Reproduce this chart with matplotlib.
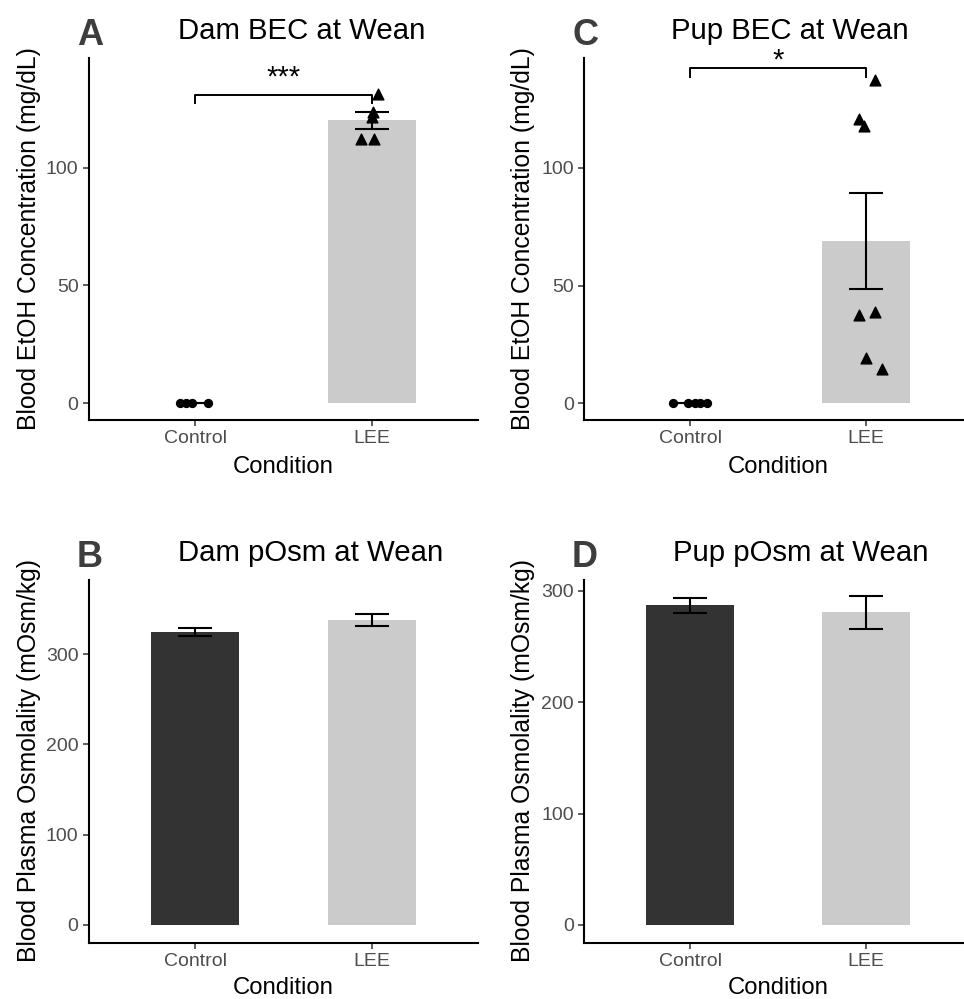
import matplotlib
matplotlib.use("Agg")
import matplotlib.pyplot as plt

plt.rcParams['font.family'] = ['Liberation Sans', 'DejaVu Sans']

W, H = 964, 999

conditions = ["Control", "LEE"]
bar_colors = ["#333333", "#cbcbcb"]

# panel A - dam BEC
damBEC_mean = [0.0, 120.0]
damBEC_se = [0.0, 3.6]
damBEC_ctrl = [0, 0, 0, 0]
damBEC_ctrl_x = [0.915, 0.949, 0.981, 1.075]
damBEC_lee = [131.2, 123.4, 121.3, 112.1, 112.1]
damBEC_lee_x = [2.035, 2.007, 1.998, 1.94, 2.01]

# panel C - pup BEC
pupBEC_mean = [0.0, 68.9]
pupBEC_se = [0.0, 20.2]
pupBEC_ctrl = [0, 0, 0, 0, 0]
pupBEC_ctrl_x = [0.905, 0.99, 1.028, 1.057, 1.095]
pupBEC_lee = [137.2, 120.9, 117.6, 37.4, 38.8, 19.4, 14.7]
pupBEC_lee_x = [2.05, 1.96, 1.99, 1.96, 2.05, 2.0, 2.09]

# panels B, D - osmolality
damOsm_mean = [324.5, 337.5]
damOsm_se = [4.0, 6.8]
pupOsm_mean = [287.0, 280.6]
pupOsm_se = [6.6, 15.0]


def px_axes(fig, left, right, top, bottom):
    return fig.add_axes([left / W, 1 - bottom / H, (right - left) / W, (bottom - top) / H])


def base_panel(ax, means, ses, ylim, yticks):
    x = [1, 2]
    ax.bar(x, means, width=0.5, color=bar_colors, zorder=1)
    ax.errorbar(x, means, yerr=ses, fmt='none', ecolor='black', elinewidth=1.5,
                capsize=12.5, capthick=1.5, zorder=3)
    ax.set_xlim(0.4, 2.6)
    ax.set_ylim(*ylim)
    ax.set_xticks(x)
    ax.set_xticklabels(conditions)
    ax.set_yticks(yticks)
    for s in ['top', 'right']:
        ax.spines[s].set_visible(False)
    for s in ['left', 'bottom']:
        ax.spines[s].set_linewidth(1.5)
        ax.spines[s].set_color('black')
    ax.tick_params(axis='both', length=4.5, width=1.1, color='#333333',
                   labelsize=14, labelcolor='#4d4d4d', pad=3)


def bracket(ax, y, drop, label, ty):
    ax.plot([1, 1, 2, 2], [y - drop, y, y, y - drop], color='black', lw=1.4,
            clip_on=False, zorder=4)
    ax.text(1.5, ty, label, ha='center', va='center', fontsize=21, clip_on=False)


fig = plt.figure(figsize=(W / 100, H / 100), dpi=100)

axA = px_axes(fig, 89, 478, 58, 420)
base_panel(axA, damBEC_mean, damBEC_se, (-7.2, 146.5), [0, 50, 100])
axA.scatter(damBEC_ctrl_x, damBEC_ctrl, marker='o', s=32, color='black', zorder=5)
axA.scatter(damBEC_lee_x, damBEC_lee, marker='^', s=60, color='black', zorder=5, clip_on=False)
bracket(axA, 131.0, 3.6, "***", 138.0)

axC = px_axes(fig, 584.4, 971.6, 58, 420)
base_panel(axC, pupBEC_mean, pupBEC_se, (-7.1, 146.6), [0, 50, 100])
axC.scatter(pupBEC_ctrl_x, pupBEC_ctrl, marker='o', s=32, color='black', zorder=5)
axC.scatter(pupBEC_lee_x, pupBEC_lee, marker='^', s=60, color='black', zorder=5, clip_on=False)
bracket(axC, 142.4, 3.8, "*", 145.5)

axB = px_axes(fig, 89, 478, 580, 942.7)
base_panel(axB, damOsm_mean, damOsm_se, (-19.6, 382), [0, 100, 200, 300])

axD = px_axes(fig, 584.4, 971.6, 580, 942.7)
base_panel(axD, pupOsm_mean, pupOsm_se, (-15.9, 309.7), [0, 100, 200, 300])

# titles, letters and axis titles placed in figure pixels
def ftext(x, y, s, **kw):
    fig.text(x / W, 1 - y / H, s, **kw)

titles = ["Dam BEC at Wean", "Pup BEC at Wean", "Dam pOsm at Wean", "Pup pOsm at Wean"]
letters = ["A", "C", "B", "D"]
ylabels = ["Blood EtOH Concentration (mg/dL)", "Blood EtOH Concentration (mg/dL)",
           "Blood Plasma Osmolality (mOsm/kg)", "Blood Plasma Osmolality (mOsm/kg)"]
title_pos = [(178, 39), (671, 39), (178, 561), (673, 561)]
letter_pos = [(77, 45), (572, 45), (77, 567), (572, 567)]
ylab_pos = [(29, 239), (523, 239), (29, 761), (523, 761)]
xlab_pos = [(283.5, 473), (778, 473), (283.5, 994), (778, 994)]

for i in range(4):
    ftext(*title_pos[i], titles[i], fontsize=21.2, ha='left', va='baseline', color='black')
    ftext(*letter_pos[i], letters[i], fontsize=26, fontweight='bold', ha='left',
          va='baseline', color='#3d3d3d')
    ftext(*ylab_pos[i], ylabels[i], fontsize=17.8, rotation=90, ha='center', va='center')
    ftext(*xlab_pos[i], "Condition", fontsize=17.2, ha='center', va='baseline')

fig.savefig("out.png", dpi=100)
